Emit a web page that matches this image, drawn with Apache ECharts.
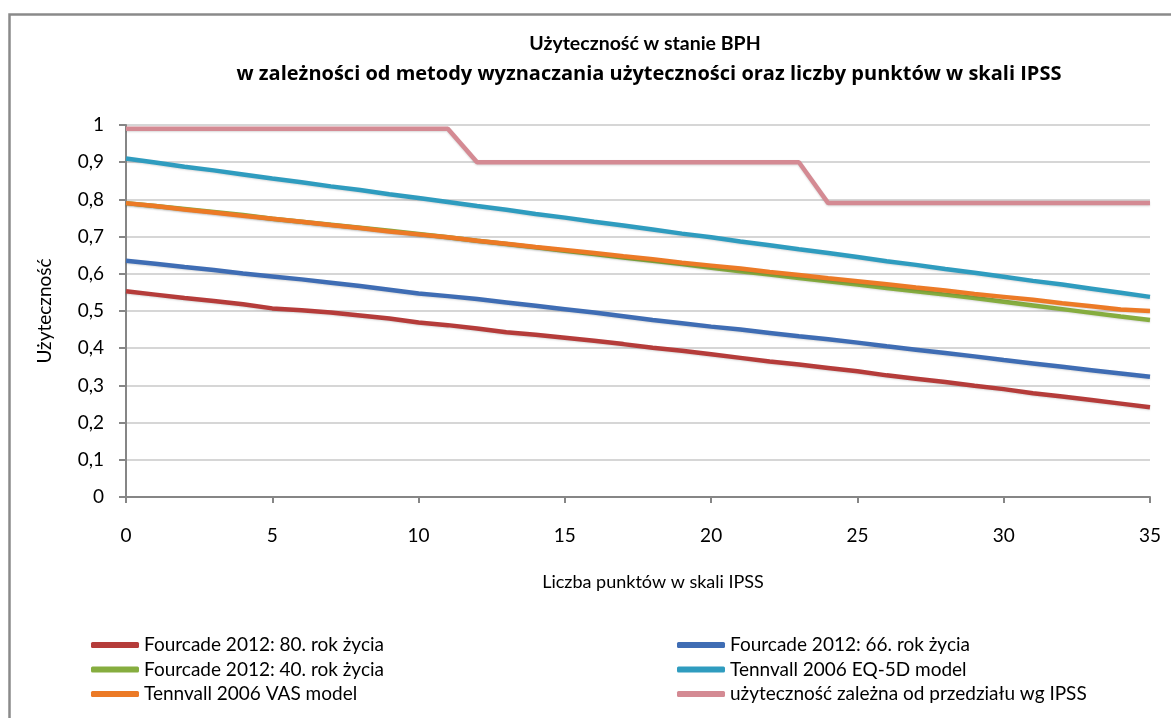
<!DOCTYPE html>
<html>
<head>
<meta charset="utf-8">
<script src="https://cdn.jsdelivr.net/npm/echarts@6/dist/echarts.min.js"></script>
<style>
html,body{margin:0;padding:0;background:#fff;}
#c{width:1171px;height:718px;}
</style>
</head>
<body>
<div id="c"></div>
<script>
const ipss = [0,1,2,3,4,5,6,7,8,9,10,11,12,13,14,15,16,17,18,19,20,21,22,23,24,25,26,27,28,29,30,31,32,33,34,35];
const seriesNames = [
  'Fourcade 2012: 80. rok życia',
  'Fourcade 2012: 66. rok życia',
  'Fourcade 2012: 40. rok życia',
  'Tennvall 2006 EQ-5D model',
  'Tennvall 2006 VAS model',
  'użyteczność zależna od przedziału wg IPSS'
];
const titleLines = [
  'Użyteczność w stanie BPH',
  'w zależności od metody wyznaczania użyteczności oraz liczby punktów w skali IPSS'
];
const fourcade80 = [0.553,0.544,0.535,0.527,0.518,0.507,0.502,0.496,0.488,0.480,0.469,0.462,0.453,0.443,0.436,0.428,0.420,0.411,0.401,0.393,0.384,0.374,0.364,0.356,0.347,0.338,0.327,0.318,0.309,0.299,0.290,0.279,0.270,0.261,0.251,0.241];
const fourcade66 = [0.635,0.627,0.618,0.610,0.601,0.593,0.585,0.576,0.567,0.557,0.547,0.540,0.532,0.523,0.514,0.505,0.496,0.486,0.476,0.467,0.458,0.450,0.441,0.432,0.424,0.415,0.405,0.396,0.387,0.378,0.368,0.359,0.350,0.341,0.332,0.323];
const fourcade40 = [0.790,0.782,0.774,0.766,0.758,0.748,0.740,0.732,0.724,0.716,0.707,0.698,0.689,0.680,0.671,0.662,0.653,0.644,0.635,0.626,0.616,0.607,0.598,0.589,0.580,0.571,0.562,0.553,0.544,0.535,0.525,0.515,0.505,0.495,0.485,0.476];
const tennvallEQ = [0.910,0.899,0.888,0.878,0.867,0.856,0.846,0.835,0.825,0.814,0.804,0.793,0.782,0.772,0.761,0.751,0.740,0.730,0.719,0.708,0.698,0.687,0.677,0.666,0.656,0.645,0.634,0.624,0.613,0.603,0.592,0.581,0.571,0.560,0.549,0.538];
const tennvallVAS = [0.790,0.782,0.773,0.765,0.756,0.748,0.740,0.731,0.723,0.714,0.706,0.698,0.689,0.681,0.672,0.664,0.656,0.647,0.639,0.630,0.622,0.614,0.605,0.597,0.588,0.580,0.572,0.563,0.555,0.546,0.538,0.530,0.521,0.513,0.504,0.500];
const ipssBand = [0.99,0.99,0.99,0.99,0.99,0.99,0.99,0.99,0.99,0.99,0.99,0.99,0.90,0.90,0.90,0.90,0.90,0.90,0.90,0.90,0.90,0.90,0.90,0.90,0.79,0.79,0.79,0.79,0.79,0.79,0.79,0.79,0.79,0.79,0.79,0.79];
const yTicks = [0,0.1,0.2,0.3,0.4,0.5,0.6,0.7,0.8,0.9,1];

const values = [fourcade80, fourcade66, fourcade40, tennvallEQ, tennvallVAS, ipssBand];
const colors = ['#b53c3a','#3f6db4','#86ad3f','#2f9cbf','#ec7a26','#d48a93'];
const FONT = 'Lato, "Open Sans", sans-serif';

const chart = echarts.init(document.getElementById('c'), null, {renderer:'canvas'});
const series = seriesNames.map((n,i)=>({
  name: n,
  type: 'line',
  data: ipss.map((x,j)=>[x, values[i][j]]),
  showSymbol: false,
  symbol: 'none',
  lineStyle: {width: 4.5, color: colors[i], shadowColor:'rgba(0,0,0,0.15)', shadowBlur:2, shadowOffsetY:1},
  itemStyle: {color: colors[i]},
  z: 2 + i,
  animation: false
}));

chart.setOption({
  animation: false,
  backgroundColor: '#fff',
  graphic: [{
    type: 'rect', left: 7, top: 12, z: 100, silent: true,
    shape: {x: 0, y: 0, width: 1180, height: 730},
    style: {fill: 'none', stroke: '#8a8a8a', lineWidth: 2.5}
  }],
  title: [
    {
      text: titleLines[0],
      left: 640, textAlign: 'center', top: 29,
      textStyle: {fontFamily: FONT, fontSize: 19.5, fontWeight: 'bold', color: '#000'}
    },
    {
      text: titleLines[1],
      left: 644, textAlign: 'center', top: 59,
      textStyle: {fontFamily: '"Open Sans", sans-serif', fontSize: 20, fontWeight: 'bold', color: '#000'}
    }
  ],
  grid: {left: 126, right: 21, top: 125, bottom: 221, containLabel: false},
  xAxis: {
    type: 'value', min: 0, max: 35, interval: 5,
    name: 'Liczba punktów w skali IPSS', nameLocation: 'middle', nameGap: 76,
    nameTextStyle: {fontFamily: FONT, fontSize: 18, color: '#000', padding: [0, 0, 0, 30]},
    axisLine: {lineStyle: {color: '#868686', width: 2}},
    axisTick: {show: true, length: 6, lineStyle: {color: '#868686', width: 2}},
    axisLabel: {fontFamily: FONT, fontSize: 19, color: '#000', margin: 29},
    splitLine: {show: false}
  },
  yAxis: {
    type: 'value', min: 0, max: 1, interval: 0.1,
    name: 'Użyteczność', nameLocation: 'middle', nameGap: 72, nameRotate: 90,
    nameTextStyle: {fontFamily: FONT, fontSize: 19, color: '#000'},
    axisLine: {show: true, lineStyle: {color: '#868686', width: 2}},
    axisTick: {show: true, length: 7, lineStyle: {color: '#868686', width: 2}},
    axisLabel: {
      fontFamily: FONT, fontSize: 19, color: '#000', margin: 22,
      formatter: v => {
        const t = yTicks.reduce((a,b)=>Math.abs(b-v)<Math.abs(a-v)?b:a);
        return (t===0||t===1) ? String(t) : t.toFixed(1).replace('.', ',');
      }
    },
    splitLine: {lineStyle: {color: '#d6d6d6', width: 2}}
  },
  legend: [
    {
      data: [seriesNames[0], seriesNames[2], seriesNames[4]],
      orient: 'vertical', left: 86, top: 630,
      icon: 'roundRect', itemWidth: 48, itemHeight: 6, itemGap: 4.5,
      textStyle: {fontFamily: FONT, fontSize: 19, color: '#000', lineHeight: 20}
    },
    {
      data: [seriesNames[1], seriesNames[3], seriesNames[5]],
      orient: 'vertical', left: 672, top: 630,
      icon: 'roundRect', itemWidth: 48, itemHeight: 6, itemGap: 4.5,
      textStyle: {fontFamily: FONT, fontSize: 19, color: '#000', lineHeight: 20}
    }
  ],
  series: series
});
</script>
</body>
</html>
